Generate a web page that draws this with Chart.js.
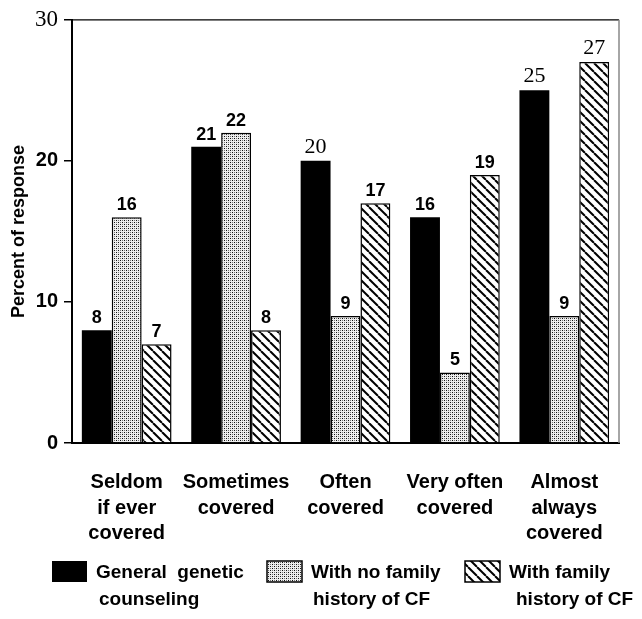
<!DOCTYPE html>
<html>
<head>
<meta charset="utf-8">
<script src="https://cdn.jsdelivr.net/npm/chart.js@4.4.1/dist/chart.umd.min.js"></script>
<style>
    body { margin: 0; background: #fff; }
    #wrap { width: 642px; height: 619px; position: relative; }
</style>
</head>
<body>
<div id="wrap"><canvas id="coverageChart"></canvas></div>
<script>
// Categories and values
const categories = [
    ['Seldom', 'if ever', 'covered'],
    ['Sometimes', 'covered'],
    ['Often', 'covered'],
    ['Very often', 'covered'],
    ['Almost', 'always', 'covered']
];
const seriesNames = [
    ['General  genetic', 'counseling'],
    ['With no family', 'history of CF'],
    ['With family', 'history of CF']
];
const generalCounseling = [8, 21, 20, 16, 25];
const noFamilyHistory = [16, 22, 9, 5, 9];
const withFamilyHistory = [7, 8, 17, 19, 27];
const yTicks = [0, 10, 20, 30];

// Labels printed in the serif face in the original scan
const serifLabels = [[0, 2], [0, 4], [2, 4]];

const SANS = 'Liberation Sans, Arial, sans-serif';
const SERIF = 'Liberation Serif, Times New Roman, serif';

function makeStipple() {
    const c = document.createElement('canvas');
    c.width = 4; c.height = 4;
    const g = c.getContext('2d');
    g.fillStyle = '#eee';
    g.fillRect(0, 0, 4, 4);
    g.fillStyle = '#111';
    g.fillRect(0, 0, 1, 1);
    g.fillRect(2, 2, 1, 1);
    g.fillStyle = '#777';
    g.fillRect(2, 0, 1, 1);
    g.fillRect(0, 2, 1, 1);
    return g.createPattern(c, 'repeat');
}

function makeHatch() {
    const s = 9;
    const c = document.createElement('canvas');
    c.width = s; c.height = s;
    const g = c.getContext('2d');
    g.fillStyle = '#fff';
    g.fillRect(0, 0, s, s);
    g.strokeStyle = '#000';
    g.lineWidth = 2;
    [-s, 0, s].forEach(k => {
        g.beginPath();
        g.moveTo(k, 0);
        g.lineTo(k + s, s);
        g.stroke();
    });
    return g.createPattern(c, 'repeat');
}

const fills = ['#000', makeStipple(), makeHatch()];

// numbers above each bar
const barLabels = {
    id: 'barLabels',
    afterDatasetsDraw(chart) {
        const ctx = chart.ctx;
        ctx.save();
        ctx.fillStyle = '#000';
        ctx.textAlign = 'center';
        ctx.textBaseline = 'alphabetic';
        chart.data.datasets.forEach((ds, di) => {
            chart.getDatasetMeta(di).data.forEach((bar, i) => {
                const serif = serifLabels.some(p => p[0] === di && p[1] === i);
                ctx.font = serif ? '22px ' + SERIF : 'bold 18px ' + SANS;
                ctx.fillText(String(ds.data[i]), bar.x, bar.y - (serif ? 8 : 7));
            });
        });
        ctx.restore();
    }
};

// top and right edge of the plot box
const frame = {
    id: 'frame',
    afterDraw(chart) {
        const a = chart.chartArea;
        const ctx = chart.ctx;
        ctx.save();
        ctx.strokeStyle = '#000';
        ctx.lineWidth = 1.2;
        ctx.beginPath();
        ctx.moveTo(a.left, a.top);
        ctx.lineTo(a.right, a.top);
        ctx.stroke();
        ctx.strokeStyle = '#888';
        ctx.lineWidth = 1.5;
        ctx.beginPath();
        ctx.moveTo(a.right, a.top);
        ctx.lineTo(a.right, a.bottom);
        ctx.stroke();
        ctx.restore();
    }
};

// legend under the axis labels, two lines per entry
const legendBlock = {
    id: 'legendBlock',
    afterDraw(chart) {
        const ctx = chart.ctx;
        const boxX = [52, 267, 465];
        const indent = [3, 2, 7];
        const top = 561;
        ctx.save();
        chart.data.datasets.forEach((ds, i) => {
            ctx.fillStyle = fills[i];
            ctx.fillRect(boxX[i], top, 35, 21);
            if (i > 0) {
                ctx.strokeStyle = '#000';
                ctx.lineWidth = 1.5;
                ctx.strokeRect(boxX[i], top, 35, 21);
            }
            ctx.fillStyle = '#000';
            ctx.font = 'bold 19px ' + SANS;
            ctx.textAlign = 'left';
            ctx.textBaseline = 'middle';
            const tx = boxX[i] + 35 + 9;
            ctx.fillText(seriesNames[i][0], tx, top + 12);
            ctx.fillText(seriesNames[i][1], tx + indent[i], top + 39);
        });
        ctx.restore();
    }
};

const ctx = document.getElementById('coverageChart').getContext('2d');
new Chart(ctx, {
    type: 'bar',
    data: {
        labels: categories,
        datasets: [
            { label: seriesNames[0].join(' '), data: generalCounseling, backgroundColor: fills[0], borderColor: '#000', borderWidth: 0 },
            { label: seriesNames[1].join(' '), data: noFamilyHistory, backgroundColor: fills[1], borderColor: '#000', borderWidth: 1.5 },
            { label: seriesNames[2].join(' '), data: withFamilyHistory, backgroundColor: fills[2], borderColor: '#000', borderWidth: 1.5 }
        ]
    },
    options: {
        responsive: true,
        maintainAspectRatio: false,
        animation: false,
        layout: { padding: { top: 15, right: 23, left: 0, bottom: 0 } },
        datasets: {
            bar: { categoryPercentage: 0.82, barPercentage: 1.0 }
        },
        plugins: {
            legend: { display: false },
            tooltip: { enabled: false }
        },
        scales: {
            x: {
                grid: { display: false },
                border: { display: true, color: '#000', width: 2 },
                ticks: {
                    color: '#000',
                    padding: 19,
                    maxRotation: 0,
                    autoSkip: false,
                    font: { family: SANS, size: 20, weight: 'bold', lineHeight: 1.27 }
                },
                afterFit(scale) { scale.height = 176; }
            },
            y: {
                min: 0,
                max: 30,
                afterBuildTicks(scale) {
                    scale.ticks = yTicks.map(v => ({ value: v }));
                },
                grid: {
                    drawOnChartArea: false,
                    drawTicks: true,
                    tickLength: 8,
                    color: '#000',
                    lineWidth: 1.5
                },
                border: { display: true, color: '#000', width: 2 },
                ticks: {
                    color: '#000',
                    padding: 6,
                    font(c) {
                        if (c.tick && c.tick.value === 30) {
                            return { family: SERIF, size: 23, weight: 'normal' };
                        }
                        return { family: SANS, size: 20, weight: 'bold' };
                    }
                },
                title: {
                    display: true,
                    text: 'Percent of response',
                    color: '#000',
                    padding: { top: 8, bottom: 0 },
                    font: { family: SANS, size: 18, weight: 'bold' }
                },
                afterFit(scale) { scale.width = 72; }
            }
        }
    },
    plugins: [barLabels, frame, legendBlock]
});
</script>
</body>
</html>
